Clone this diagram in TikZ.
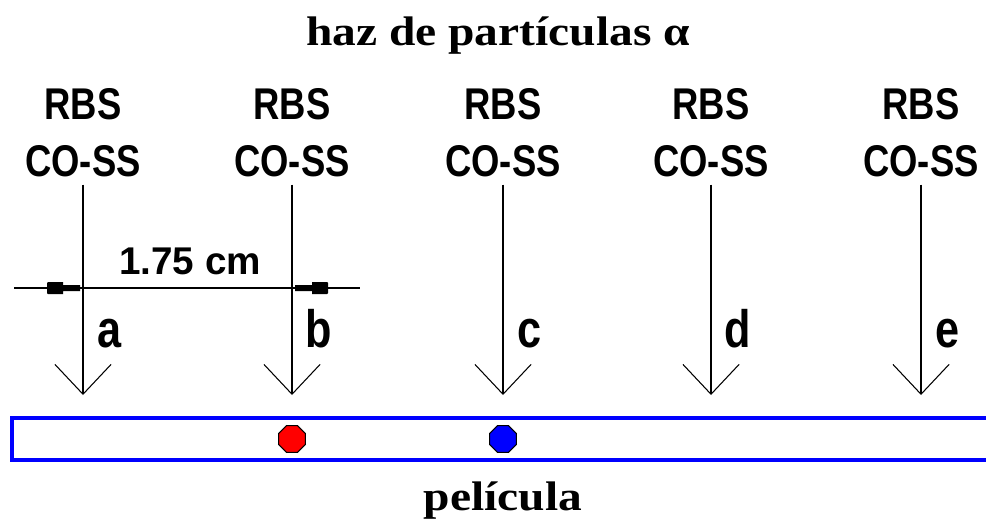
\documentclass[tikz,border=0pt]{standalone}
\usepackage{fontspec}
\usetikzlibrary{arrows.meta,shapes.geometric}
\newfontfamily\serifb{Liberation Serif}[FakeStretch=1.15]
\newfontfamily\sansc{Liberation Sans}[FakeStretch=0.82]
\newfontfamily\sansn{Liberation Sans}
\definecolor{filmblue}{RGB}{0,0,255}
\tikzset{
  hdr/.style={font=\serifb\bfseries\fontsize{23.5}{28}\selectfont, inner sep=0pt},
  tech/.style={font=\sansc\bfseries\fontsize{25.3}{30}\selectfont, inner sep=0pt, outer sep=4.5pt},
  letter/.style={font=\sansc\bfseries\fontsize{30}{36}\selectfont, inner sep=0pt, anchor=base},
  beam/.style={line width=0.7pt, -{Straight Barb[length=17pt,width=32pt,line width=0.6pt]}},
  dimline/.style={line width=0.7pt},
  dimhead/.style={fill=black},
  film/.style={draw=filmblue, line width=1.8pt},
  dot/.style={regular polygon, regular polygon sides=8, minimum size=16.5pt, inner sep=0pt, draw=black, line width=0.6pt},
}
\begin{document}
\begin{tikzpicture}[x=0.02cm, y=-0.02cm]
\useasboundingbox (0,0) rectangle (986,520);
\fill[white] (0,0) rectangle (986,520);

\node[hdr, anchor=base] (title) at (498,46) {haz de partículas α};

\foreach \n/\x in {a/83, b/292, c/503, d/711, e/921} {
  \node[tech] (r\n) at (\x,104) {RBS};
  \node[tech] (c\n) at (\x,161) {CO-SS};
  \coordinate (t\n) at (\x,395);
  \draw[beam] (c\n) -- (t\n);
  \node[letter] (l\n) at (\x+27,347) {\n};
}

% dimension
\coordinate (d0) at (14,288);
\coordinate (d1) at (360,288);
\draw[dimline] (d0) -- (d1);
% left head (points right, to line a)
\fill[dimhead] (47,283) -- (48,282) -- (63,282) -- (63,285) -- (80,285) -- (80,291) -- (63,291) -- (63,294) -- (48,294) -- (47,293) -- cycle;
% right head (points left, to line b)
\fill[dimhead] (328,283) -- (327,282) -- (312,282) -- (312,285) -- (295,285) -- (295,291) -- (312,291) -- (312,294) -- (327,294) -- (328,293) -- cycle;
\node[font=\sansn\bfseries\fontsize{22}{26}\selectfont, inner sep=0pt] (dim) at (190,261) {1.75 cm};

% film
\coordinate (f0) at (986,418);
\coordinate (f1) at (12,418);
\coordinate (f2) at (12,460);
\coordinate (f3) at (986,460);
\draw[film] (f0) -- (f1) -- (f2) -- (f3);
\node[dot, fill=red] (red) at (292,439) {};
\node[dot, fill=filmblue] (blue) at (503,439) {};

\node[hdr, anchor=base] (pel) at (503,510) {película};
\end{tikzpicture}
\end{document}
